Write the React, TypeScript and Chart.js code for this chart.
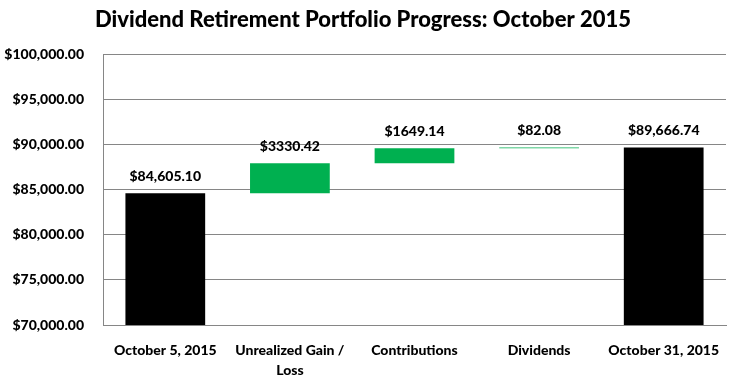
import React, { useEffect, useRef } from "react";
import { Chart, registerables } from "chart.js";

Chart.register(...registerables);

const categories: string[][] = [
  ["October 5, 2015"],
  ["Unrealized Gain /", "Loss"],
  ["Contributions"],
  ["Dividends"],
  ["October 31, 2015"],
];
const axisBase = 70000;
const startValue = 84605.1;
const changes = [3330.42, 1649.14, 82.08];
const endValue = 89666.74;
const valueLabels = ["$84,605.10", "$3330.42", "$1649.14", "$82.08", "$89,666.74"];
const barColors = ["#000000", "#00B050", "#00B050", "#00B050", "#000000"];
const yMin = 70000;
const yMax = 100000;
const yStep = 5000;
const titleText = "Dividend Retirement Portfolio Progress: October 2015";

const FONT = "Lato, 'Open Sans', sans-serif";

function buildFloating(): [number, number][] {
  const out: [number, number][] = [[axisBase, startValue]];
  let running = startValue;
  for (const c of changes) {
    out.push([running, running + c]);
    running += c;
  }
  out.push([axisBase, endValue]);
  return out;
}

const labelPlugin = {
  id: "valueLabels",
  afterDatasetsDraw(chart: any) {
    const ctx = chart.ctx;
    const meta = chart.getDatasetMeta(0);
    ctx.save();
    ctx.font = `900 14px ${FONT}`;
    ctx.fillStyle = "#000";
    ctx.textAlign = "center";
    ctx.textBaseline = "middle";
    meta.data.forEach((el: any, i: number) => {
      const top = Math.min(el.y, el.base);
      ctx.fillText(valueLabels[i], el.x, top - 17);
    });
    ctx.restore();
  },
};

export default function App() {
  const ref = useRef<HTMLCanvasElement | null>(null);
  useEffect(() => {
    document.body.style.margin = "0";
    const canvas = ref.current;
    if (!canvas) return;
    const chart = new Chart(canvas, {
      type: "bar",
      data: {
        labels: categories as any,
        datasets: [
          {
            data: buildFloating() as any,
            backgroundColor: barColors,
            borderWidth: 0,
            barPercentage: 0.64,
            categoryPercentage: 1,
          },
        ],
      },
      options: {
        responsive: false,
        animation: false,
        layout: { padding: { left: 0, right: 7, top: 0, bottom: 0 } },
        plugins: {
          legend: { display: false },
          tooltip: { enabled: false },
          title: {
            display: true,
            text: titleText,
            color: "#000",
            font: { family: FONT, size: 22, weight: "900", lineHeight: 1.2 },
            padding: { top: 7, bottom: 21 },
          },
        },
        scales: {
          x: {
            grid: { display: false },
            border: { display: true, color: "#868686", width: 1 },
            ticks: {
              color: "#000",
              font: { family: FONT, size: 14, weight: "900", lineHeight: 1.45 },
              maxRotation: 0,
              autoSkip: false,
              padding: 7,
            },
            afterFit: (s: any) => {
              s.height = 51;
            },
          },
          y: {
            min: yMin,
            max: yMax,
            grid: { color: "#868686", drawTicks: false, lineWidth: 1 },
            border: { display: true, color: "#868686", width: 1 },
            ticks: {
              stepSize: yStep,
              color: "#000",
              padding: 19,
              font: { family: FONT, size: 14, weight: "900" },
              callback: (v: any) =>
                "$" +
                Number(v).toLocaleString("en-US", {
                  minimumFractionDigits: 2,
                  maximumFractionDigits: 2,
                }),
            },
            afterFit: (s: any) => {
              s.width = 103;
            },
          },
        },
      },
      plugins: [labelPlugin],
    });
    return () => chart.destroy();
  }, []);
  return (
    <div style={{ width: 733, height: 376, background: "#fff" }}>
      <canvas ref={ref} width={733} height={376} />
    </div>
  );
}
